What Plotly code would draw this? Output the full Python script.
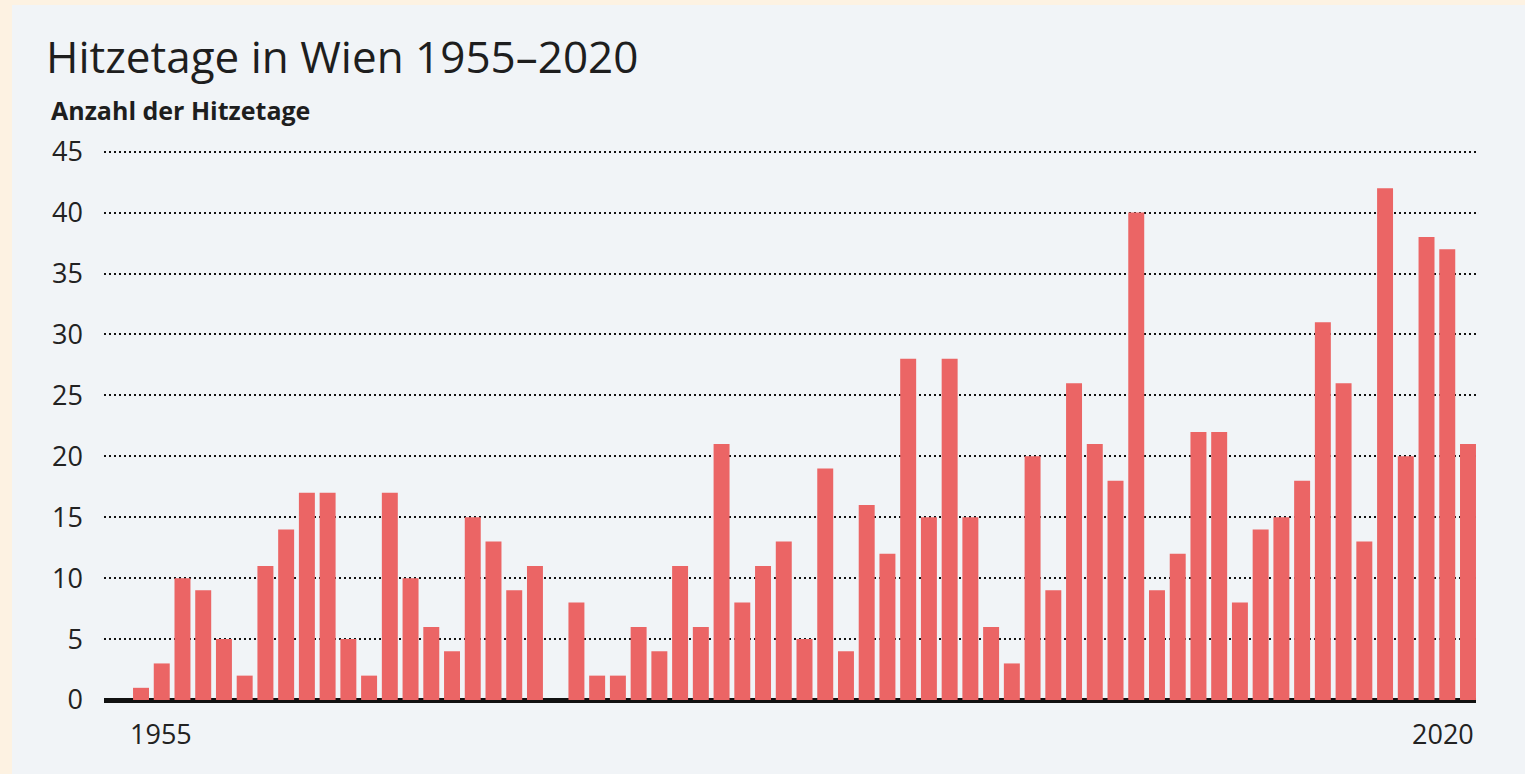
import plotly.graph_objects as go

# ---- data ----
years = list(range(1955, 2020))
hot_days = [1, 3, 10, 9, 5, 2, 11, 14, 17, 17,
            5, 2, 17, 10, 6, 4, 15, 13, 9, 11,
            0, 8, 2, 2, 6, 4, 11, 6, 21, 8,
            11, 13, 5, 19, 4, 16, 12, 28, 15, 28,
            15, 6, 3, 20, 9, 26, 21, 18, 40, 9,
            12, 22, 22, 8, 14, 15, 18, 31, 26, 13,
            42, 20, 38, 37, 21]
y_ticks = [0, 5, 10, 15, 20, 25, 30, 35, 40, 45]
x_labels = ["1955", "2020"]

title = "Hitzetage in Wien 1955–2020"
subtitle = "Anzahl der Hitzetage"

# ---- layout constants ----
W, H = 1525, 774
L, R, T, B = 104, 49, 148, 74
PW, PH = W - L - R, H - T - B
CREAM = "#fdf2e2"
PANEL = "#f1f4f7"
BAR = "#eb6565"
FONT = "Open Sans"
TEXT = "#222222"


def px_x(p):
    return (p - L) / PW


def px_y(p):
    return (H - B - p) / PH


fig = go.Figure()
fig.add_trace(go.Bar(x=years, y=hot_days, marker=dict(color=BAR, line=dict(width=0)),
                     hoverinfo="x+y"))

fig.update_layout(
    width=W, height=H,
    margin=dict(l=L, r=R, t=T, b=B, pad=0),
    paper_bgcolor=PANEL, plot_bgcolor=PANEL,
    bargap=0.23,
    showlegend=False,
    font=dict(family=FONT, color=TEXT),
    xaxis=dict(range=[1953.215, 2019.386], showticklabels=False, showgrid=False,
               zeroline=False, showline=False, ticks=""),
    yaxis=dict(range=[0, 45.3], tickvals=y_ticks, ticks="", ticklabelstandoff=20,
               tickfont=dict(size=27, color=TEXT, family=FONT),
               showgrid=True, gridcolor="#111111", gridwidth=2, griddash="2px,3px",
               zeroline=True, zerolinecolor="#111111", zerolinewidth=4.5,
               showline=False),
)

# cream frame strips (left and top)
fig.add_shape(type="rect", xref="paper", yref="paper",
              x0=px_x(0), x1=px_x(12), y0=px_y(H), y1=px_y(0),
              fillcolor=CREAM, line=dict(width=0), layer="below")
fig.add_shape(type="rect", xref="paper", yref="paper",
              x0=px_x(0), x1=px_x(W), y0=px_y(5), y1=px_y(0),
              fillcolor=CREAM, line=dict(width=0), layer="below")

# title and subtitle
fig.add_annotation(text=title, xref="paper", yref="paper", x=px_x(44), y=px_y(56),
                   xanchor="left", yanchor="middle", showarrow=False,
                   font=dict(size=44, color="#1e1e1e", family=FONT))
fig.add_annotation(text="<b>" + subtitle + "</b>", xref="paper", yref="paper",
                   x=px_x(49), y=px_y(110), xanchor="left", yanchor="middle",
                   showarrow=False, font=dict(size=25, color="#1e1e1e", family=FONT))

# x labels
fig.add_annotation(text=x_labels[0], xref="paper", yref="paper", x=px_x(128), y=px_y(733),
                   xanchor="left", yanchor="middle", showarrow=False,
                   font=dict(size=27, color=TEXT, family=FONT))
fig.add_annotation(text=x_labels[1], xref="paper", yref="paper", x=1.0, y=px_y(733),
                   xanchor="right", yanchor="middle", showarrow=False,
                   font=dict(size=27, color=TEXT, family=FONT))

fig.write_html("out.html",
               config={"displayModeBar": False},
               post_script="document.body.style.margin='0';"
                           "document.body.style.background='" + CREAM + "';")
